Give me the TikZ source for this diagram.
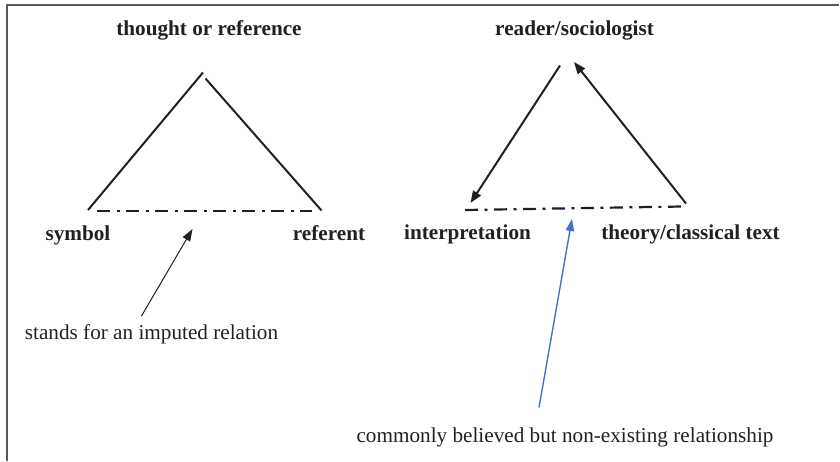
\documentclass[tikz,border=0pt]{standalone}
\usepackage{fontspec}
\setmainfont{Liberation Serif}
\usetikzlibrary{arrows.meta}

\definecolor{ink}{HTML}{231F20}
\definecolor{pointblue}{HTML}{4472C4}

\begin{document}
\begin{tikzpicture}[
    x=0.5pt, y=-0.5pt,
    lab/.style={font=\fontsize{10.6}{12}\selectfont\bfseries, text=ink, inner sep=0pt, anchor=base},
    note/.style={font=\fontsize{10.6}{12}\selectfont, text=ink, inner sep=0pt, anchor=base},
    side/.style={draw=ink, line width=1pt},
    imputed/.style={draw=ink, line width=1.1pt, dash pattern=on 6.5pt off 3.25pt on 1.5pt off 3.25pt},
    arr/.style={draw=ink, line width=1pt, -{Triangle[length=6pt,width=4.5pt]}},
    pointer/.style={line width=0.5pt, -{Triangle[length=6pt,width=4.2pt]}},
]
\useasboundingbox (0,0) rectangle (840,461);

% Frame (cut at right and bottom)
\draw[black!65, line width=1pt] (839,5) -- (6.5,5) -- (6.5,461);

% Left triangle: thought / symbol / referent
\node[lab] (thought) at (209,35) {thought or reference};
\node[lab] (symbol) at (78,240) {symbol};
\node[lab] (referent) at (329,240) {referent};
\coordinate (t1) at (203,72.5);
\coordinate (t2) at (205.5,78.5);
\coordinate (s1) at (88,210);
\coordinate (r1) at (321.5,210.5);
\coordinate (s2) at (97,211);
\coordinate (r2) at (312,211);
\draw[side] (s1) -- (t1);
\draw[side] (t2) -- (r1);
\draw[imputed] (s2) -- (r2);

% Note on the imputed relation
\node[note] (stands) at (151.5,339) {stands for an imputed relation};
\coordinate (stail) at (141.5,316);
\coordinate (stip) at (192.5,229);
\draw[pointer, ink] (stail) -- (stip);

% Right triangle: reader / interpretation / theory
\node[lab] (reader) at (574.5,35) {reader/sociologist};
\node[lab] (interp) at (467.5,239) {interpretation};
\node[lab] (theory) at (690.5,239) {theory/classical text};
\coordinate (rd1) at (560,65.5);
\coordinate (rd2) at (574,62);
\coordinate (in1) at (470.5,203);
\coordinate (th1) at (686,203.5);
\coordinate (in2) at (465,210);
\coordinate (th2) at (682,206.5);
\draw[arr] (rd1) -- (in1);
\draw[arr] (th1) -- (rd2);
\draw[imputed] (in2) -- (th2);

% Note on the non-existing relationship
\node[note] (believed) at (565,442) {commonly believed but non-existing relationship};
\coordinate (btail) at (539,407.5);
\coordinate (btip) at (572,219);
\draw[pointer, pointblue, line width=0.7pt] (btail) -- (btip);
\end{tikzpicture}
\end{document}
